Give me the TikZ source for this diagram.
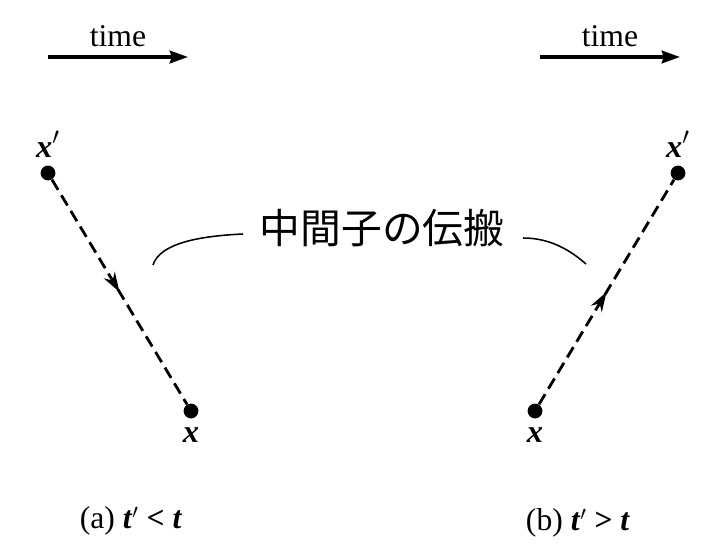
\documentclass[tikz,border=0pt]{standalone}
\usepackage{fontspec}
\setmainfont{Liberation Serif}
\newfontfamily\jpfont{Noto Sans CJK JP}
\usepackage{tikz}
\usetikzlibrary{positioning,calc,arrows.meta,decorations.markings}

\begin{document}
\begin{tikzpicture}[x=0.025cm,y=-0.025cm,
  font=\fontsize{22.5}{26}\selectfont,
  dot/.style={circle,fill=black,inner sep=0pt,minimum size=0.37cm},
  lab/.style={font=\fontsize{23}{26}\selectfont\bfseries\itshape},
  timearrow/.style={line width=2.4pt,-{Stealth[length=13pt,width=9pt,inset=1.5pt]}},
  prop/.style={line width=2pt,dash pattern=on 8.5pt off 4.5pt,postaction={decorate},
    decoration={markings,mark=at position 0.5 with {\arrow{Stealth[length=14pt,width=9pt]}}}},
  hook/.style={line width=1.1pt}]
\useasboundingbox (0,0) rectangle (701,552);
% time arrows
\foreach \x/\n in {48/a,540/b} {
  \coordinate (t\n0) at (\x,57);
  \coordinate (t\n1) at (\x+140,57);
  \draw[timearrow] (t\n0) -- (t\n1);
  \node[above=4pt] (time\n) at ($(t\n0)!0.5!(t\n1)$) {time};
}
% (a) t' < t
\node[dot] (xpa) at (48,173) {};
\node[dot] (xa) at (191,411) {};
\node[lab,above=2pt of xpa] {x$'$};
\node[lab,below=3pt of xa] {x};
\draw[prop] (xpa) -- (xa);
% (b) t' > t
\node[dot] (xb) at (535,411) {};
\node[dot] (xpb) at (678,173) {};
\node[lab,above=2pt of xpb] {x$'$};
\node[lab,below=3pt of xb] {x};
\draw[prop] (xb) -- (xpb);
% label
\node[font=\jpfont\fontsize{29}{32}\selectfont] (lbl) at (382,228) {中間子の伝搬};
\coordinate (la) at (153,265);
\coordinate (lb) at (243,234);
\coordinate (ra) at (523,238);
\coordinate (rb) at (586,264);
\draw[hook] (la) .. controls (160,243) and (200,236) .. (lb);
\draw[hook] (ra) .. controls (550,238) and (570,250) .. (rb);
% captions
\node (capa) at (131,521) {(a) \textbf{\textit{t}}$'$ \textbf{<} \textbf{\textit{t}}};
\node (capb) at (578,523) {(b) \textbf{\textit{t}}$'$ \textbf{>} \textbf{\textit{t}}};
\end{tikzpicture}
\end{document}
